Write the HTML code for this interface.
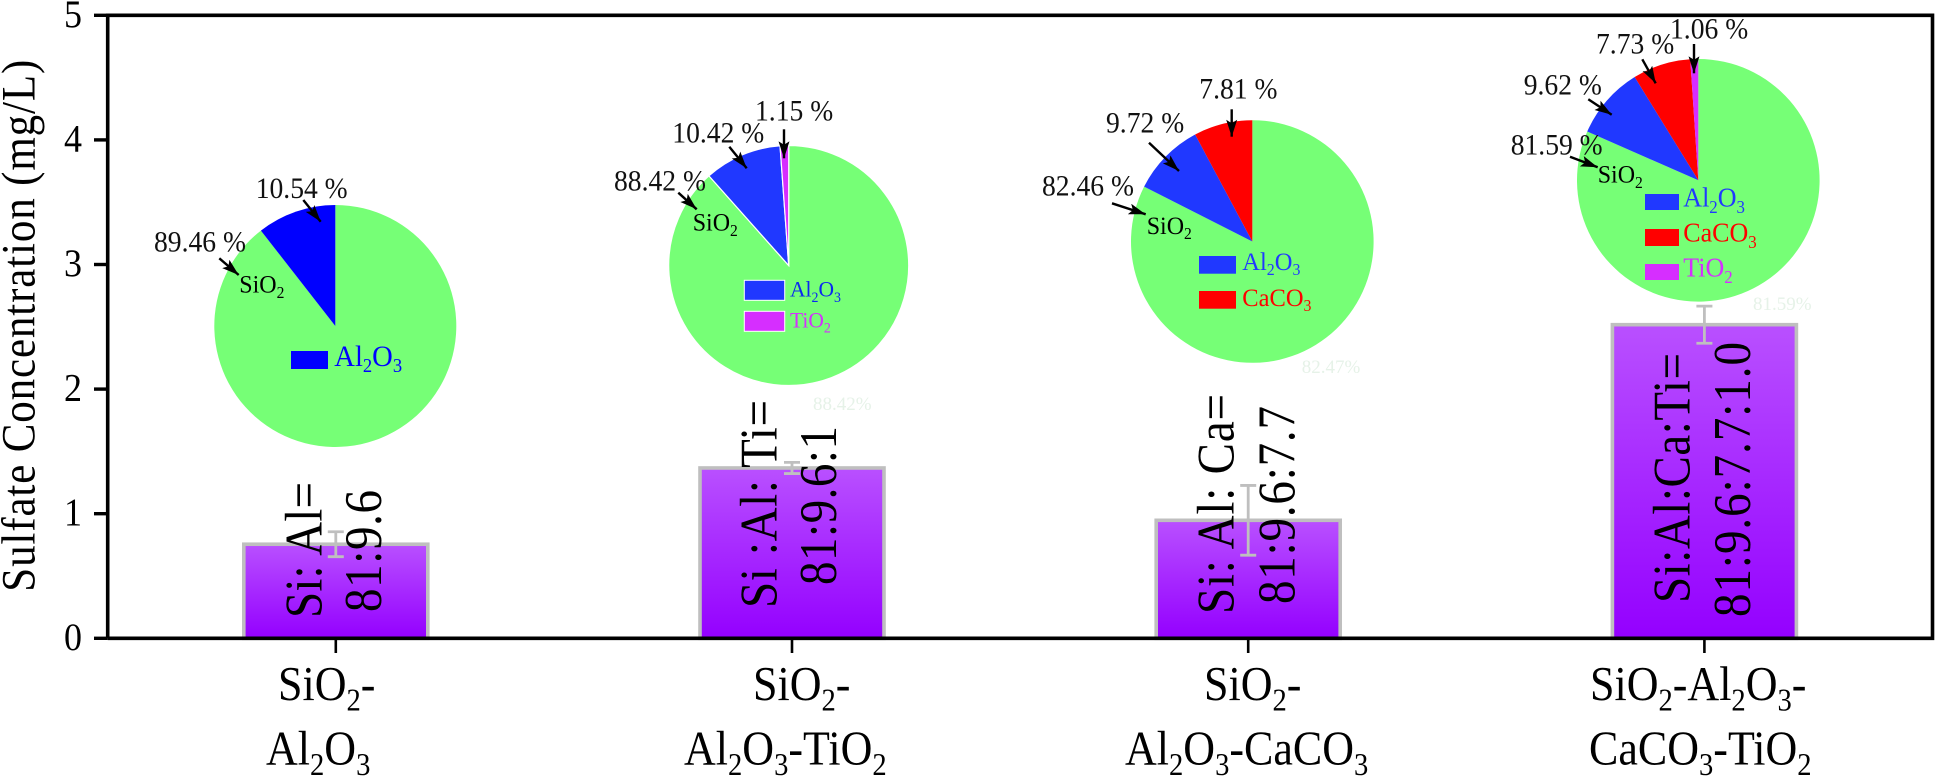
<!DOCTYPE html>
<html lang="en">
<head>
<meta charset="utf-8">
<title>Sulfate Concentration</title>
<style>
html,body{margin:0;padding:0;background:#fff;width:1935px;height:777px;overflow:hidden}
svg{display:block;font-family:"Liberation Serif",serif}
.s{font-size:65%;baseline-shift:-0.33em}
.pct{font-size:27.6px;fill:#111}
.si{font-size:24px;fill:#000}
.xl{font-size:44px;fill:#000}
.rot{font-size:47px;fill:#000}
.ghost{font-size:19px;fill:#e6f2e8}
.arrow{stroke:#000;stroke-width:2.4;marker-end:url(#arrowhead)}
</style>
</head>
<body>
<svg id="chart" width="1935" height="777" viewBox="0 0 1935 777" xmlns="http://www.w3.org/2000/svg">
<defs>
<linearGradient id="barFill" x1="0" y1="0" x2="0" y2="1">
<stop offset="0" stop-color="#b950ff"/>
<stop offset="1" stop-color="#9400ff"/>
</linearGradient>
<marker id="arrowhead" markerUnits="userSpaceOnUse" markerWidth="18" markerHeight="12" refX="17" refY="6" orient="auto">
<path d="M0,0.5 L17,6 L0,11.5 L3.5,6 z" fill="#000"/>
</marker>
</defs>

<g id="bars"></g>

<g>
<text class="rot" transform="translate(321.5 618) rotate(-90) scale(1 1.12)" textLength="136" lengthAdjust="spacing">Si: Al=</text>
<text class="rot" transform="translate(381 612) rotate(-90) scale(1 1.12)" textLength="122" lengthAdjust="spacing">81:9.6</text>
<text class="rot" transform="translate(776.5 608) rotate(-90) scale(1 1.12)" textLength="208" lengthAdjust="spacing">Si :Al: Ti=</text>
<text class="rot" transform="translate(836 585) rotate(-90) scale(1 1.12)" textLength="159" lengthAdjust="spacing">81:9.6:1</text>
<text class="rot" transform="translate(1233.6 614) rotate(-90) scale(1 1.12)" textLength="220" lengthAdjust="spacing">Si: Al: Ca=</text>
<text class="rot" transform="translate(1294.6 604) rotate(-90) scale(1 1.12)" textLength="198" lengthAdjust="spacing">81:9.6:7.7</text>
<text class="rot" transform="translate(1689.5 603) rotate(-90) scale(1 1.12)" textLength="250" lengthAdjust="spacing">Si:Al:Ca:Ti=</text>
<text class="rot" transform="translate(1749.8 617) rotate(-90) scale(1 1.12)" textLength="275" lengthAdjust="spacing">81:9.6:7.7:1.0</text>
</g>

<g id="errors"></g>
<g id="pies"></g>

<g>
<text class="pct" x="255.7" y="198">10.54 %</text>
<text class="pct" x="154" y="251.7">89.46 %</text>
<text class="si" x="239.3" y="292.7">SiO<tspan class="s">2</tspan></text>
<line class="arrow" x1="303.3" y1="200" x2="320.7" y2="221.7"/>
<line class="arrow" x1="219.3" y1="258.3" x2="238.7" y2="275"/>
<rect x="291" y="351" width="37" height="18" fill="#0000ff"/>
<text class="leg" x="334.3" y="366" font-size="28.6" fill="#0000ff">Al<tspan class="s">2</tspan>O<tspan class="s">3</tspan></text>
</g>

<g>
<text class="pct" x="755" y="120.7">1.15 %</text>
<text class="pct" x="672.3" y="142.7">10.42 %</text>
<text class="pct" x="614" y="190.7">88.42 %</text>
<text class="si" x="692.7" y="230.7">SiO<tspan class="s">2</tspan></text>
<line class="arrow" x1="784" y1="129.3" x2="784" y2="158.3"/>
<line class="arrow" x1="729.3" y1="146.7" x2="746.7" y2="168.3"/>
<line class="arrow" x1="678.3" y1="192.7" x2="696.7" y2="209.3"/>
<rect x="744.3" y="280.3" width="40.4" height="20" fill="#2038ff" stroke="#fff" stroke-width="1"/>
<rect x="744.3" y="311.3" width="40.4" height="20" fill="#d62eff" stroke="#fff" stroke-width="1"/>
<text class="leg" x="790" y="296.7" font-size="21.5" fill="#0a28f0">Al<tspan class="s">2</tspan>O<tspan class="s">3</tspan></text>
<text class="leg" x="790" y="327.3" font-size="21.5" fill="#d62eff">TiO<tspan class="s">2</tspan></text>
<text class="ghost" x="813" y="410">88.42%</text>
</g>

<g>
<text class="pct" x="1199.3" y="98.7">7.81 %</text>
<text class="pct" x="1106" y="132.7">9.72 %</text>
<text class="pct" x="1042" y="195.3">82.46 %</text>
<text class="si" x="1146.7" y="234">SiO<tspan class="s">2</tspan></text>
<line class="arrow" x1="1231.7" y1="109.3" x2="1231.7" y2="136.7"/>
<line class="arrow" x1="1149" y1="142.7" x2="1179" y2="171"/>
<line class="arrow" x1="1112" y1="203.3" x2="1145.7" y2="214.3"/>
<rect x="1199" y="256" width="37" height="17.7" fill="#2038ff"/>
<rect x="1199" y="291" width="37" height="17.7" fill="#ff0000"/>
<text class="leg" x="1242.3" y="270" font-size="24.5" fill="#2038ff">Al<tspan class="s">2</tspan>O<tspan class="s">3</tspan></text>
<text class="leg" x="1242.3" y="306" font-size="24.5" fill="#ff0000">CaCO<tspan class="s">3</tspan></text>
<text class="ghost" x="1301.7" y="373">82.47%</text>
</g>

<g>
<text class="pct" x="1670" y="38.3">1.06 %</text>
<text class="pct" x="1596" y="53.7">7.73 %</text>
<text class="pct" x="1523.7" y="94.7">9.62 %</text>
<text class="pct" x="1510.7" y="154.3">81.59 %</text>
<text class="si" x="1597.7" y="182.7">SiO<tspan class="s">2</tspan></text>
<line class="arrow" x1="1694" y1="44" x2="1694" y2="73.3"/>
<line class="arrow" x1="1642.3" y1="59.3" x2="1655.7" y2="83.3"/>
<line class="arrow" x1="1588.3" y1="99.3" x2="1611.7" y2="114.7"/>
<line class="arrow" x1="1570" y1="156.7" x2="1597.7" y2="167.3"/>
<rect x="1645" y="194" width="34" height="16" fill="#2038ff"/>
<rect x="1645" y="229" width="34" height="17" fill="#ff0000"/>
<rect x="1645" y="264" width="34" height="16" fill="#d62eff"/>
<text class="leg" x="1683.3" y="206.7" font-size="26" fill="#2038ff">Al<tspan class="s">2</tspan>O<tspan class="s">3</tspan></text>
<text class="leg" x="1683.3" y="241.7" font-size="26" fill="#ff0000">CaCO<tspan class="s">3</tspan></text>
<text class="leg" x="1683.3" y="276.7" font-size="26" fill="#d62eff">TiO<tspan class="s">2</tspan></text>
<text class="ghost" x="1753" y="310">81.59%</text>
</g>

<g id="axes"></g>

<text transform="translate(34.3 591.7) rotate(-90) scale(1 1.1)" font-size="43" fill="#000" textLength="532" lengthAdjust="spacing">Sulfate Concentration (mg/L)</text>

<g>
<text class="xl" x="278" y="700">SiO<tspan class="s">2</tspan>-</text>
<text class="xl" x="266" y="764.3">Al<tspan class="s">2</tspan>O<tspan class="s">3</tspan></text>
<text class="xl" x="753" y="700">SiO<tspan class="s">2</tspan>-</text>
<text class="xl" x="684" y="764.3">Al<tspan class="s">2</tspan>O<tspan class="s">3</tspan>-TiO<tspan class="s">2</tspan></text>
<text class="xl" x="1204" y="700">SiO<tspan class="s">2</tspan>-</text>
<text class="xl" x="1125" y="764.3">Al<tspan class="s">2</tspan>O<tspan class="s">3</tspan>-CaCO<tspan class="s">3</tspan></text>
<text class="xl" x="1590" y="700">SiO<tspan class="s">2</tspan>-Al<tspan class="s">2</tspan>O<tspan class="s">3</tspan>-</text>
<text class="xl" x="1589" y="764.3">CaCO<tspan class="s">3</tspan>-TiO<tspan class="s">2</tspan></text>
</g>
</svg>

<script>
var categories = ['SiO2-Al2O3', 'SiO2-Al2O3-TiO2', 'SiO2-Al2O3-CaCO3', 'SiO2-Al2O3-CaCO3-TiO2'];
var sulfateValues = [0.755, 1.367, 0.947, 2.517];
var sulfateErrors = [0.1, 0.045, 0.28, 0.149];
var yTickLabels = [0, 1, 2, 3, 4, 5];
var pie1Values = [89.46, 10.54];
var pie2Values = [88.42, 10.42, 1.15];
var pie3Values = [82.46, 9.72, 7.81];
var pie4Values = [81.59, 9.62, 7.73, 1.06];

var NS = 'http://www.w3.org/2000/svg';
var plotLeft = 107.7, plotRight = 1932.5, plotTop = 15.3, plotBottom = 638.3;
var yMax = 5, barWidth = 184, capHalf = 8;

function xScale(i) {
  return plotLeft + (plotRight - plotLeft) * (i + 0.5) / categories.length;
}
function yScale(v) {
  return plotBottom - (plotBottom - plotTop) * v / yMax;
}
function make(tag, attrs, parent) {
  var el = document.createElementNS(NS, tag);
  for (var k in attrs) el.setAttribute(k, attrs[k]);
  parent.appendChild(el);
  return el;
}

var barsGroup = document.getElementById('bars');
var errorsGroup = document.getElementById('errors');
var piesGroup = document.getElementById('pies');
var axesGroup = document.getElementById('axes');

categories.forEach(function (cat, i) {
  var cx = xScale(i);
  var top = yScale(sulfateValues[i]);
  var bar = make('rect', {
    x: cx - barWidth / 2, y: top, width: barWidth, height: plotBottom - top,
    fill: 'url(#barFill)', stroke: '#bfbfbf', 'stroke-width': 3.6
  }, barsGroup);
  
  

  var hi = yScale(sulfateValues[i] + sulfateErrors[i]);
  var lo = yScale(sulfateValues[i] - sulfateErrors[i]);
  var err = make('path', {
    d: 'M' + (cx - capHalf) + ' ' + hi + 'H' + (cx + capHalf) +
       'M' + cx + ' ' + hi + 'V' + lo +
       'M' + (cx - capHalf) + ' ' + lo + 'H' + (cx + capHalf),
    fill: 'none', stroke: '#bfbfbf', 'stroke-width': 2.8
  }, errorsGroup);
  
  
});

function drawPie(name, cx, cy, r, values, colors, edge) {
  var total = values.reduce(function (a, b) { return a + b; }, 0);
  var acc = 0;
  values.forEach(function (v, i) {
    var a0 = acc / total * 2 * Math.PI;
    acc += v;
    var a1 = acc / total * 2 * Math.PI;
    var x0 = cx + r * Math.sin(a0), y0 = cy - r * Math.cos(a0);
    var x1 = cx + r * Math.sin(a1), y1 = cy - r * Math.cos(a1);
    var large = (a1 - a0) > Math.PI ? 1 : 0;
    var slice = make('path', {
      d: 'M' + cx + ' ' + cy + 'L' + x0 + ' ' + y0 + 'A' + r + ' ' + r + ' 0 ' + large + ' 1 ' + x1 + ' ' + y1 + 'Z',
      fill: colors[i], stroke: edge || 'none', 'stroke-width': edge ? 1.2 : 0
    }, piesGroup);
    
    
  });
}
var GREEN = '#76ff76', BLUE = '#2038ff', RED = '#ff0000', MAGENTA = '#d62eff';
drawPie('pie-1', 335.3, 326, 121, pie1Values, [GREEN, '#0000ff']);
drawPie('pie-2', 788.7, 265.5, 120, pie2Values, [GREEN, BLUE, MAGENTA], '#ffffff');
drawPie('pie-3', 1252.3, 241.5, 121.3, pie3Values, [GREEN, BLUE, RED]);
drawPie('pie-4', 1698.3, 180.3, 121.3, pie4Values, [GREEN, BLUE, RED, MAGENTA]);

var frame = make('path', {
  d: 'M' + plotLeft + ' ' + plotBottom + 'V' + plotTop + 'H' + plotRight + 'V' + plotBottom + 'H' + plotLeft,
  fill: 'none', stroke: '#000', 'stroke-width': 3.6
}, axesGroup);



yTickLabels.forEach(function (t) {
  var y = yScale(t);
  var tick = make('line', { x1: 94, x2: plotLeft, y1: y, y2: y, stroke: '#000', 'stroke-width': 3.4 }, axesGroup);
  
  
  var label = make('text', { transform: 'translate(82 ' + (y + 11.5) + ') scale(1 1.1)', 'text-anchor': 'end', 'font-size': 36, fill: '#000' }, axesGroup);
  label.textContent = String(t);
  
  
});

categories.forEach(function (cat, i) {
  var x = xScale(i);
  var tick = make('line', { x1: x, x2: x, y1: plotBottom, y2: 653, stroke: '#000', 'stroke-width': 2.6 }, axesGroup);
  
  
});

/* The reference type is stretched vertically; keep each label's baseline and scale its height. */
function stretchText(selector, factor) {
  document.querySelectorAll(selector).forEach(function (el) {
    var x = el.getAttribute('x'), y = el.getAttribute('y');
    el.removeAttribute('x');
    el.removeAttribute('y');
    el.setAttribute('transform', 'translate(' + x + ' ' + y + ') scale(1 ' + factor + ')');
  });
}
stretchText('text.xl', 1.1);
stretchText('text.pct', 1.08);
stretchText('text.si', 1.05);
stretchText('text.leg', 1.05);
</script>
</body>
</html>
